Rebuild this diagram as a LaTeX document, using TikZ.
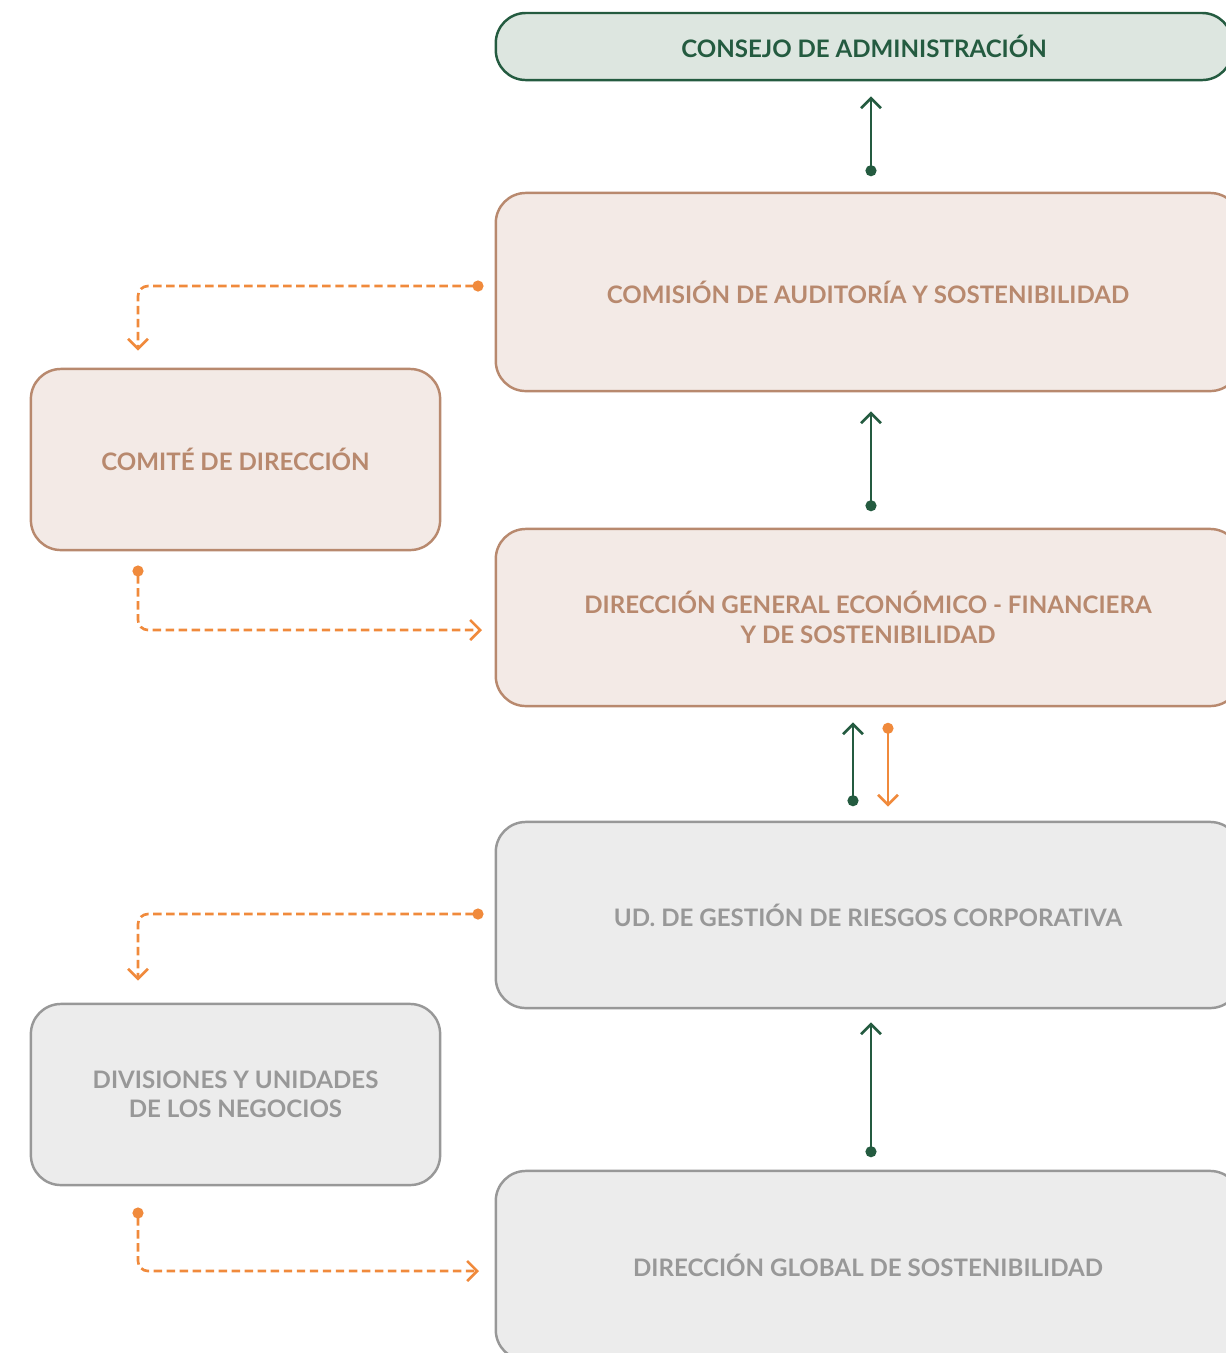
\documentclass[tikz,border=0pt]{standalone}
\usepackage{fontspec}
\setmainfont{Lato}
\usetikzlibrary{arrows.meta,positioning}

\definecolor{verde}{HTML}{245B40}
\definecolor{verdefondo}{HTML}{DDE6E0}
\definecolor{marron}{HTML}{B8896E}
\definecolor{marronfondo}{HTML}{F3EAE6}
\definecolor{gris}{HTML}{989898}
\definecolor{grisfondo}{HTML}{ECECEC}
\definecolor{naranja}{HTML}{F08A3C}

\begin{document}
\begin{tikzpicture}[x=0.01cm, y=-0.01cm, line width=0.75pt,
    caja/.style={rectangle, rounded corners=0.3cm, line width=0.7pt, align=center,
        font=\fontsize{6.85}{8.4}\selectfont\bfseries},
    cajaverde/.style={caja, draw=verde, fill=verdefondo, text=verde},
    cajamarron/.style={caja, draw=marron, fill=marronfondo, text=marron},
    cajagris/.style={caja, draw=gris, fill=grisfondo, text=gris},
    sube/.style={draw=verde, {Circle[length=0.11cm]}-{Straight Barb[length=0.1cm, width=0.2cm]}},
    baja/.style={draw=naranja, {Circle[length=0.11cm]}-{Straight Barb[length=0.1cm, width=0.2cm]}},
    punteada/.style={draw=naranja, dash pattern=on 2.4pt off 1.3pt, rounded corners=0.1cm,
        {Circle[length=0.11cm]}-{Straight Barb[length=0.1cm, width=0.2cm]}}]

    \useasboundingbox (0,0) rectangle (1226,1353);
    \clip (0,0) rectangle (1226,1353);

    % Cajas de la derecha
    \node[cajaverde, minimum width=7.36cm, minimum height=0.67cm] (consejo) at (864,46.5) {CONSEJO DE ADMINISTRACIÓN};
    \node[cajamarron, minimum width=7.44cm, minimum height=1.98cm] (comision) at (868,292) {COMISIÓN DE AUDITORÍA Y SOSTENIBILIDAD};
    \node[cajamarron, minimum width=7.44cm, minimum height=1.77cm] (dgef) at (868,617.5) {DIRECCIÓN GENERAL ECONÓMICO - FINANCIERA\\Y DE SOSTENIBILIDAD};
    \node[cajagris, minimum width=7.44cm, minimum height=1.86cm] (riesgos) at (868,915) {UD. DE GESTIÓN DE RIESGOS CORPORATIVA};
    \node[cajagris, minimum width=7.44cm, minimum height=1.89cm] (global) at (868,1265.5) {DIRECCIÓN GLOBAL DE SOSTENIBILIDAD};

    % Cajas de la izquierda
    \node[cajamarron, minimum width=4.09cm, minimum height=1.81cm] (comite) at (235.5,459.5) {COMITÉ DE DIRECCIÓN};
    \node[cajagris, minimum width=4.09cm, minimum height=1.81cm] (divisiones) at (235.5,1094.5) {DIVISIONES Y UNIDADES\\DE LOS NEGOCIOS};

    % Ejes de las flechas
    \coordinate (eje) at (871,0);
    \coordinate (ejeA) at (853,0);
    \coordinate (ejeB) at (888,0);
    \coordinate (ejeiz) at (138,0);

    % Flechas verticales
    \draw[sube, shorten <=0.155cm, shorten >=0.15cm] (comision.north -| eje) -- (consejo.south -| eje);
    \draw[sube, shorten <=0.165cm, shorten >=0.19cm] (dgef.north -| eje) -- (comision.south -| eje);
    \draw[sube, shorten <=0.145cm, shorten >=0.15cm] (riesgos.north -| ejeA) -- (dgef.south -| ejeA);
    \draw[baja, shorten <=0.155cm, shorten >=0.14cm] (dgef.south -| ejeB) -- (riesgos.north -| ejeB);
    \draw[sube, shorten <=0.125cm, shorten >=0.13cm] (global.north -| eje) -- (riesgos.south -| eje);

    % Flechas punteadas
    \coordinate (p1) at (483.5,286);
    \coordinate (p2) at (138,565.5);
    \coordinate (f2) at (482,630);
    \coordinate (p3) at (483.5,914);
    \coordinate (p4) at (138,1207.5);
    \coordinate (f4) at (479,1271);

    \draw[punteada, shorten >=0.17cm] (p1) -| (comite.north -| ejeiz);
    \draw[punteada] (p2) |- (f2);
    \draw[punteada, shorten >=0.22cm] (p3) -| (divisiones.north -| ejeiz);
    \draw[punteada] (p4) |- (f4);

\end{tikzpicture}
\end{document}
